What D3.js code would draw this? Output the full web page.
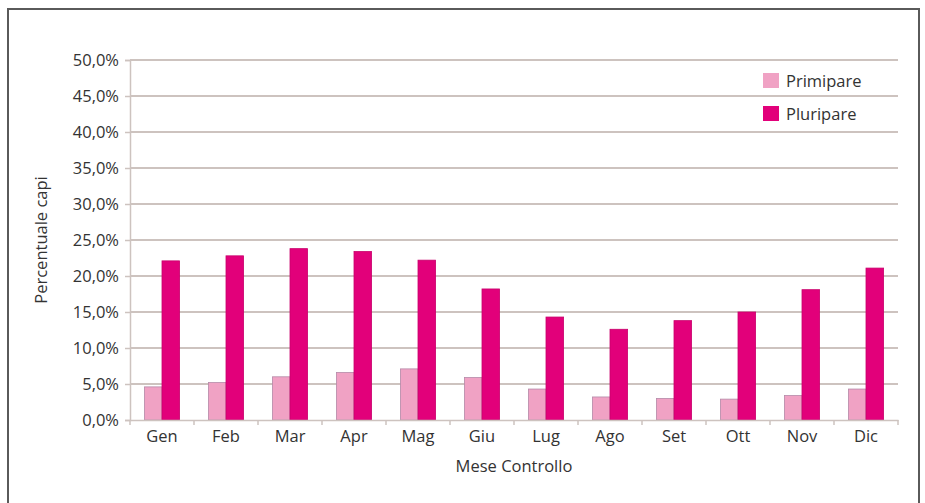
<!DOCTYPE html>
<html>
<head>
<meta charset="utf-8">
<script src="https://cdn.jsdelivr.net/npm/d3@7"></script>
<style>
  html, body { margin: 0; padding: 0; background: #fff; }
  svg { display: block; }
  text { font-family: "Open Sans", "Noto Sans", sans-serif; fill: #333; }
</style>
</head>
<body>
<svg id="chart" width="925" height="503"></svg>
<script>
const months = ["Gen","Feb","Mar","Apr","Mag","Giu","Lug","Ago","Set","Ott","Nov","Dic"];
const seriesNames = ["Primipare","Pluripare"];
const primipare = [4.6, 5.2, 6.0, 6.6, 7.1, 5.9, 4.3, 3.2, 3.0, 2.9, 3.4, 4.3];
const pluripare = [22.1, 22.8, 23.8, 23.4, 22.2, 18.2, 14.3, 12.6, 13.8, 15.0, 18.1, 21.1];
const yTicks = [0, 5, 10, 15, 20, 25, 30, 35, 40, 45, 50];
const colors = ["#f0a2c4", "#e2007a"];
const strokes = ["#b58aa8", "#c8006c"];

const svg = d3.select("#chart");
const m = {left: 130, right: 898, top: 60, bottom: 420};
const fs = 16.5;

// frame
svg.append("rect").attr("x", 8).attr("y", 9).attr("width", 911).attr("height", 520)
  .attr("fill", "none").attr("stroke", "#5a5a5a").attr("stroke-width", 2);

const x0 = d3.scaleBand().domain(months).range([m.left, m.right])
  .paddingInner(0.45).paddingOuter(0.225);
const x1 = d3.scaleBand().domain(seriesNames).range([0, x0.bandwidth()]);
const y = d3.scaleLinear().domain([0, 50]).range([m.bottom, m.top]);

const fmt = v => v.toFixed(1).replace(".", ",") + "%";

// gridlines
svg.append("g").selectAll("line").data(yTicks.filter(d => d > 0)).join("line")
  .attr("x1", m.left).attr("x2", m.right)
  .attr("y1", d => y(d)).attr("y2", d => y(d))
  .attr("stroke", "#cdc3bf").attr("stroke-width", 2);

// y axis
const yAxis = svg.append("g").attr("transform", `translate(${m.left},0)`)
  .call(d3.axisLeft(y).tickValues(yTicks).tickFormat(fmt).tickSize(5).tickPadding(6));
yAxis.select(".domain").attr("stroke", "#cdc3bf").attr("stroke-width", 1.5);
yAxis.selectAll(".tick line").attr("stroke", "#cdc3bf").attr("stroke-width", 1.5);
yAxis.selectAll("text").attr("font-size", fs).attr("fill", "#333")
  .style("font-family", '"Open Sans", sans-serif');

// bars
const data = months.map((mo, i) => ({month: mo, vals: [primipare[i], pluripare[i]]}));
const groups = svg.append("g").selectAll("g").data(data).join("g")
  .attr("transform", d => `translate(${x0(d.month)},0)`);
groups.selectAll("rect").data(d => d.vals.map((v, j) => ({v, s: seriesNames[j], j}))).join("rect")
  .attr("x", d => x1(d.s))
  .attr("width", x1.bandwidth())
  .attr("y", d => y(d.v))
  .attr("height", d => y(0) - y(d.v))
  .attr("fill", d => colors[d.j])
  .attr("stroke", d => strokes[d.j])
  .attr("stroke-width", 0.8);

// x axis
const xAxis = svg.append("g").attr("transform", `translate(0,${m.bottom})`)
  .call(d3.axisBottom(x0).tickSize(0).tickPadding(10));
xAxis.select(".domain").attr("stroke", "#cdc3bf").attr("stroke-width", 1.5);
xAxis.selectAll("text").attr("font-size", fs).attr("fill", "#333")
  .style("font-family", '"Open Sans", sans-serif');
// category boundary ticks
const bounds = d3.range(months.length + 1).map(i => m.left + i * x0.step());
svg.append("g").selectAll("line").data(bounds).join("line")
  .attr("x1", d => d).attr("x2", d => d)
  .attr("y1", m.bottom).attr("y2", m.bottom + 5)
  .attr("stroke", "#cdc3bf").attr("stroke-width", 1.5);

// axis titles
svg.append("text").attr("x", (m.left + m.right) / 2).attr("y", 472)
  .attr("text-anchor", "middle").attr("font-size", fs).text("Mese Controllo");
svg.append("text").attr("transform", `translate(47,${(m.top + m.bottom) / 2}) rotate(-90)`)
  .attr("text-anchor", "middle").attr("font-size", fs).text("Percentuale capi");

// legend
const lg = svg.append("g").attr("transform", "translate(763,73)");
seriesNames.forEach((s, i) => {
  lg.append("rect").attr("x", 0).attr("y", i * 33).attr("width", 16).attr("height", 15)
    .attr("fill", colors[i]);
  lg.append("text").attr("x", 23).attr("y", i * 33 + 14).attr("font-size", fs).text(s);
});
</script>
</body>
</html>
